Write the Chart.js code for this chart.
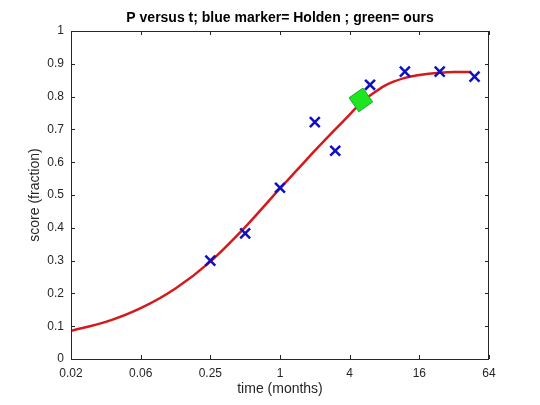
<!DOCTYPE html>
<html>
<head>
<meta charset="utf-8">
<script src="https://cdn.jsdelivr.net/npm/chart.js@4"></script>
<style>
  html, body { margin: 0; padding: 0; background: #fff; }
  #wrap { width: 540px; height: 405px; }
</style>
</head>
<body>
<div id="wrap"><canvas id="pChart"></canvas></div>
<script>
// Holden measurements (blue x)
var holdenT = [0.25, 0.5, 1, 2, 3, 6, 12, 24, 48];
var holdenP = [0.30, 0.383, 0.522, 0.722, 0.635, 0.836, 0.876, 0.876, 0.861];
// our point (green)
var oursT = [5];
var oursP = [0.79];
// fitted curve (red)
var curveT = [0.015625, 0.03125, 0.0625, 0.125, 0.25, 0.5, 1, 1.5, 2, 3, 4, 5, 6, 8, 12, 16, 24, 32, 45];
var curveP = [0.086, 0.113, 0.155, 0.215, 0.297, 0.402, 0.520, 0.587, 0.635, 0.700, 0.745, 0.781, 0.803, 0.833, 0.857, 0.866, 0.873, 0.875, 0.875];
// axis ticks
var xTicks = [0.015625, 0.0625, 0.25, 1, 4, 16, 64];
var xTickLabels = ['0.02', '0.06', '0.25', '1', '4', '16', '64'];

function pts(xs, ys) {
  return xs.map(function (x, i) { return { x: x, y: ys[i] }; });
}

var axisColor = '#262626';
var fontFam = '"Liberation Sans", Arial, Helvetica, sans-serif';

// box around the axes, ticks pointing inwards, and the title over the axes
var matlabBox = {
  id: 'matlabBox',
  afterDraw: function (chart) {
    var c = chart.ctx, a = chart.chartArea;
    var xs = chart.scales.x, ys = chart.scales.y;
    c.save();
    c.strokeStyle = axisColor;
    c.lineWidth = 1;
    c.strokeRect(a.left + 0.5, a.top + 0.5, a.right - a.left - 1, a.bottom - a.top);
    c.beginPath();
    xTicks.forEach(function (v) {
      var px = Math.round(xs.getPixelForValue(v)) + 0.5;
      c.moveTo(px, a.bottom); c.lineTo(px, a.bottom - 4);
      c.moveTo(px, a.top); c.lineTo(px, a.top + 4);
    });
    ys.ticks.forEach(function (t) {
      var py = Math.round(ys.getPixelForValue(t.value)) + 0.5;
      c.moveTo(a.left, py); c.lineTo(a.left + 4, py);
      c.moveTo(a.right, py); c.lineTo(a.right - 4, py);
    });
    c.stroke();
    c.fillStyle = '#000';
    c.font = 'bold 14px ' + fontFam;
    c.textAlign = 'center';
    c.textBaseline = 'middle';
    c.fillText('P versus t; blue marker= Holden ; green= ours', (a.left + a.right) / 2, 18);
    c.restore();
  }
};

var ctx = document.getElementById('pChart').getContext('2d');
var pChart = new Chart(ctx, {
  type: 'scatter',
  data: {
    datasets: [{
      label: 'ours',
      data: pts(oursT, oursP),
      pointStyle: 'rect',
      pointRotation: 55,
      pointRadius: 12,
      backgroundColor: '#1ee61e',
      borderColor: '#14a83c',
      borderWidth: 1
    }, {
      label: 'Holden',
      data: pts(holdenT, holdenP),
      pointStyle: 'crossRot',
      pointRadius: 7,
      borderColor: '#1010c0',
      borderWidth: 2.5
    }, {
      label: 'fit',
      data: pts(curveT, curveP),
      showLine: true,
      cubicInterpolationMode: 'monotone',
      borderColor: '#d41a1a',
      borderWidth: 2.5,
      pointRadius: 0
    }]
  },
  options: {
    responsive: true,
    maintainAspectRatio: false,
    animation: false,
    layout: { padding: { top: 31, right: 51, bottom: 0, left: 0 } },
    plugins: { legend: { display: false }, tooltip: { enabled: false } },
    scales: {
      x: {
        type: 'logarithmic',
        min: 0.015625,
        max: 64,
        afterBuildTicks: function (s) { s.ticks = xTicks.map(function (v) { return { value: v }; }); },
        afterFit: function (s) { s.height = 46; },
        grid: { display: false, drawTicks: false },
        border: { display: false },
        ticks: {
          padding: 7,
          color: axisColor,
          font: { family: fontFam, size: 12 },
          maxRotation: 0,
          autoSkip: false,
          callback: function (v, i) { return xTickLabels[i]; }
        },
        title: {
          display: true,
          text: 'time (months)',
          color: axisColor,
          font: { family: fontFam, size: 14 },
          padding: { top: 0, bottom: 7 }
        }
      },
      y: {
        min: 0,
        max: 1,
        afterFit: function (s) { s.width = 71; },
        grid: { display: false, drawTicks: false },
        border: { display: false },
        ticks: {
          stepSize: 0.1,
          padding: 7,
          color: axisColor,
          font: { family: fontFam, size: 12 },
          callback: function (v) { return String(+v.toFixed(1)); }
        },
        title: {
          display: true,
          text: 'score (fraction)',
          color: axisColor,
          font: { family: fontFam, size: 14 },
          padding: { top: 27, bottom: 0 }
        }
      }
    }
  },
  plugins: [matlabBox]
});
</script>
</body>
</html>
